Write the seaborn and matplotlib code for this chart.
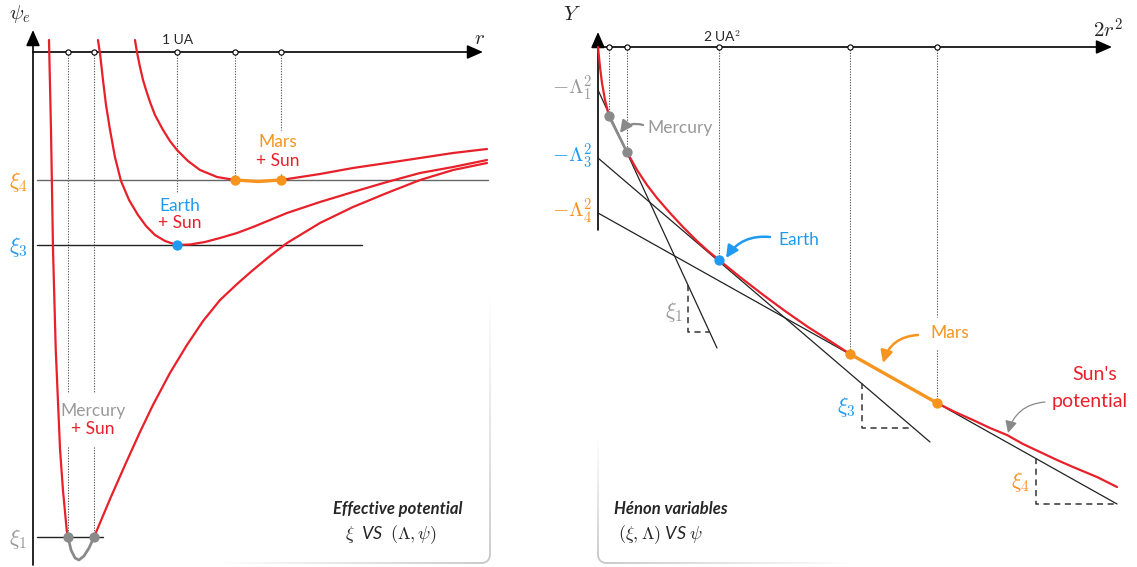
import numpy as np
import matplotlib.pyplot as plt
import seaborn as sns
from matplotlib.collections import LineCollection
from matplotlib.patches import Arc

# ---- colours
RED = '#e8202a'
ORANGE = '#f7941d'
BLUE = '#1e9bf0'
GREY = '#999999'
DOT_GREY = '#8a8a8a'

# ---- left panel: effective potential psi_e(r), r in UA
tick_r = [0.243, 0.424, 1.0, 1.403, 1.722]
xi_level = [-4.85, -1.93, -1.28]          # xi1, xi3, xi4
xi_line_end = [0.486, 2.285, 3.16]

mercury_in_r = [0.111, 0.125, 0.139, 0.158, 0.188, 0.208, 0.234, 0.243]
mercury_in_psi = [0.12, -0.78, -1.98, -2.98, -3.98, -4.38, -4.78, -4.85]
mercury_well_r = [0.243, 0.264, 0.292, 0.319, 0.354, 0.389, 0.424]
mercury_well_psi = [-4.85, -4.98, -5.06, -5.08, -5.04, -4.96, -4.85]
mercury_out_r = [0.424, 0.535, 0.639, 0.743, 0.833, 0.951, 1.069, 1.181,
                 1.299, 1.417, 1.528, 1.646, 1.764, 1.993, 2.222, 2.458,
                 2.688, 2.917, 3.153]
mercury_out_psi = [-4.85, -4.47, -4.13, -3.80, -3.53, -3.21, -2.93, -2.69,
                   -2.48, -2.32, -2.18, -2.04, -1.91, -1.71, -1.55, -1.41,
                   -1.28, -1.18, -1.11]

earth_r = [0.451, 0.465, 0.486, 0.507, 0.535, 0.569, 0.611, 0.667, 0.729,
           0.785, 0.847, 0.917, 1.0, 1.090, 1.194, 1.299, 1.417, 1.528,
           1.646, 1.764, 1.993, 2.222, 2.458, 2.688, 2.917, 3.153]
earth_psi = [0.12, -0.01, -0.28, -0.53, -0.78, -1.05, -1.29, -1.48, -1.63,
             -1.74, -1.83, -1.89, -1.93, -1.925, -1.90, -1.86, -1.81, -1.75,
             -1.68, -1.61, -1.50, -1.40, -1.30, -1.21, -1.15, -1.08]

mars_in_r = [0.708, 0.722, 0.743, 0.764, 0.785, 0.8125, 0.847, 0.903, 0.951,
             1.0, 1.076, 1.160, 1.278, 1.403]
mars_in_psi = [0.12, 0.00, -0.15, -0.28, -0.38, -0.50, -0.63, -0.78, -0.89,
               -0.98, -1.09, -1.18, -1.25, -1.28]
mars_well_r = [1.403, 1.563, 1.722]
mars_well_psi = [-1.28, -1.295, -1.28]
mars_out_r = [1.722, 1.993, 2.222, 2.458, 2.688, 2.917, 3.153]
mars_out_psi = [-1.28, -1.22, -1.16, -1.11, -1.06, -1.01, -0.97]

# ---- right panel: Henon variables, Y versus 2r^2 (UA^2)
tick_s = [0.182, 0.479, 2.0, 4.165, 5.603]
tick_Y = [-0.69, -1.05, -2.13, -3.07, -3.56]

sun_a_s = [0.0, 0.033, 0.066, 0.116, 0.182]
sun_a_Y = [0.0, -0.20, -0.36, -0.53, -0.69]
merc_seg_s = [0.182, 0.479]
merc_seg_Y = [-0.69, -1.05]
sun_b_s = [0.479, 0.645, 0.810, 0.975, 1.190, 1.405, 1.636, 1.818, 2.0,
           2.347, 2.711, 3.091, 3.471, 3.835, 4.165]
sun_b_Y = [-1.05, -1.23, -1.38, -1.51, -1.66, -1.80, -1.94, -2.04, -2.13,
           -2.30, -2.47, -2.64, -2.80, -2.94, -3.07]
mars_seg_s = [4.165, 5.603]
mars_seg_Y = [-3.07, -3.56]
sun_c_s = [5.603, 5.901, 6.198, 6.479, 6.760, 7.025, 7.306, 7.587, 7.851,
           8.248, 8.579]
sun_c_Y = [-3.56, -3.65, -3.73, -3.81, -3.88, -3.97, -4.05, -4.13, -4.20,
           -4.30, -4.40]

tangent_Lambda2 = [-0.43, -1.11, -1.66]     # -Lambda1^2, -Lambda3^2, -Lambda4^2
tangent_end_s = [1.967, 5.488, 8.579]
tangent_end_Y = [-3.01, -3.95, -4.57]
tri_s0 = [1.488, 4.364, 7.240]
tri_s1 = [1.835, 5.223, 8.579]
tri_Ytop = [-2.38, -3.36, -4.11]
tri_Ybot = [-2.85, -3.81, -4.57]
xi_names = [r'$\xi_1$', r'$\xi_3$', r'$\xi_4$']
lam_names = [r'$-\Lambda_1^2$', r'$-\Lambda_3^2$', r'$-\Lambda_4^2$']
body_colors = [GREY, BLUE, ORANGE]

sns.set_theme(style='white')
plt.rcParams['font.family'] = ['Lato', 'DejaVu Sans']
plt.rcParams['mathtext.fontset'] = 'cm'

fig = plt.figure(figsize=(11.37, 5.67), dpi=100)
axL = fig.add_axes([0, 0, 0.5, 1])
axR = fig.add_axes([0.5, 0, 0.5, 1])


def curve(ax, x, y, color, lw=1.6, z=3):
    sns.lineplot(x=x, y=y, ax=ax, color=color, lw=lw, sort=False,
                 estimator=None, zorder=z, solid_capstyle='round',
                 solid_joinstyle='round')


def vline(ax, x, y0, y1):
    ax.plot([x, x], [y0, y1], color='#444444', lw=0.8, dashes=(1, 1.4), zorder=1)


def arrow(ax, tip, start):
    ax.annotate('', xy=tip, xytext=start, zorder=2,
                arrowprops=dict(arrowstyle='-|>,head_length=0.8,head_width=0.35',
                                color='black', lw=1.2, shrinkA=0, shrinkB=0))


def curly(ax, start, end, color, lw, rad=0.35):
    ax.annotate('', xy=end, xytext=start, zorder=6,
                arrowprops=dict(arrowstyle='-|>,head_length=0.6,head_width=0.3',
                                connectionstyle=f'arc3,rad={rad}', color=color,
                                lw=lw, shrinkA=0, shrinkB=0))


def fade(ax, p0, p1, a0, a1, color='#c8c8c8'):
    t = np.linspace(0, 1, 40)
    xs = p0[0] + (p1[0] - p0[0]) * t
    ys = p0[1] + (p1[1] - p0[1]) * t
    pts = np.column_stack([xs, ys]).reshape(-1, 1, 2)
    segs = np.concatenate([pts[:-1], pts[1:]], axis=1)
    alphas = a0 + (a1 - a0) * t[:-1]
    cols = [(*plt.matplotlib.colors.to_rgb(color), a) for a in alphas]
    ax.add_collection(LineCollection(segs, colors=cols, lw=1.3, zorder=0))


# ================= LEFT PANEL =================
ax = axL
ax.set_xlim(-0.2292, 3.7188)
ax.set_ylim(-5.15, 0.52)

arrow(ax, (0, 0.22), (0, -5.13))
arrow(ax, (3.125, 0), (0, 0))

for lvl, end, c in zip(xi_level, xi_line_end, ['#222222', '#222222', '#666666']):
    ax.plot([0.028, end], [lvl, lvl], color=c, lw=1.0, zorder=2)

vline(ax, tick_r[0], 0, -3.41)
vline(ax, tick_r[0], -3.95, xi_level[0])
vline(ax, tick_r[1], 0, -3.41)
vline(ax, tick_r[1], -3.95, xi_level[0])
vline(ax, tick_r[2], 0, -1.41)
vline(ax, tick_r[3], 0, xi_level[2])
vline(ax, tick_r[4], 0, -0.78)
vline(ax, tick_r[4], -1.22, xi_level[2])

curve(ax, mercury_in_r, mercury_in_psi, RED)
curve(ax, mercury_out_r, mercury_out_psi, RED)
curve(ax, earth_r, earth_psi, RED)
curve(ax, mars_in_r, mars_in_psi, RED)
curve(ax, mars_out_r, mars_out_psi, RED)
curve(ax, mercury_well_r, mercury_well_psi, DOT_GREY, lw=2.0, z=4)
curve(ax, mars_well_r, mars_well_psi, ORANGE, lw=2.4, z=4)

sns.scatterplot(x=tick_r, y=[0] * len(tick_r), ax=ax, s=14, marker='o',
                facecolor='white', edgecolor='black', linewidth=0.8, zorder=5)
sns.scatterplot(x=[tick_r[0], tick_r[1]], y=[xi_level[0]] * 2, ax=ax, s=55,
                color=DOT_GREY, linewidth=0, zorder=5)
sns.scatterplot(x=[tick_r[2]], y=[xi_level[1]], ax=ax, s=55, color=BLUE,
                linewidth=0, zorder=5)
sns.scatterplot(x=[tick_r[3], tick_r[4]], y=[xi_level[2]] * 2, ax=ax, s=55,
                color=ORANGE, linewidth=0, zorder=5)

ax.text(-0.09, 0.38, r'$\psi_e$', fontsize=15, ha='center', va='center')
ax.text(3.10, 0.14, r'$r$', fontsize=15, ha='center', va='center')
ax.text(1.007, 0.12, '1 UA', fontsize=10, ha='center', va='center')
for lvl, name, c in zip(xi_level, xi_names, body_colors):
    ax.text(-0.104, lvl - 0.02, name, fontsize=16, color=c, ha='center', va='center')

ax.text(1.701, -0.90, 'Mars', fontsize=12.5, color=ORANGE, ha='center', va='center')
ax.text(1.701, -1.09, '+ Sun', fontsize=12.5, color=RED, ha='center', va='center')
ax.text(1.021, -1.54, 'Earth', fontsize=12.5, color=BLUE, ha='center', va='center')
ax.text(1.021, -1.71, '+ Sun', fontsize=12.5, color=RED, ha='center', va='center')
ax.text(0.417, -3.59, 'Mercury', fontsize=12.5, color=GREY, ha='center', va='center')
ax.text(0.417, -3.77, '+ Sun', fontsize=12.5, color=RED, ha='center', va='center')

ax.text(2.986, -4.57, 'Effective potential', fontsize=12, fontweight='bold',
        fontstyle='italic', ha='right', va='center')
ax.text(2.486, -4.83, r'$\xi$  VS  $(\Lambda,\psi)$', fontsize=13,
        fontstyle='italic', ha='center', va='center')

fade(ax, (3.174, -2.4), (3.174, -5.03), 0.0, 1.0)
ax.add_patch(Arc((3.118, -5.03), 0.111, 0.16, theta1=270, theta2=360,
                 color='#c8c8c8', lw=1.3))
fade(ax, (3.118, -5.11), (1.3, -5.11), 1.0, 0.0)
ax.set_axis_off()

# ================= RIGHT PANEL =================
ax = axR
ax.set_xlim(-0.4876, 8.909)
ax.set_ylim(-5.20, 0.47)

arrow(ax, (0, 0.15), (0, -1.83))
arrow(ax, (8.496, 0), (0, 0))

for i in range(4):
    vline(ax, tick_s[i], 0, tick_Y[i])
vline(ax, tick_s[4], 0, -2.70)
vline(ax, tick_s[4], -3.03, tick_Y[4])

for lam, es, ey in zip(tangent_Lambda2, tangent_end_s, tangent_end_Y):
    ax.plot([0, es], [lam, ey], color='#222222', lw=0.9, zorder=2)
for s0, s1, yt, yb in zip(tri_s0, tri_s1, tri_Ytop, tri_Ybot):
    ax.plot([s0, s0, s1], [yt, yb, yb], color='#333333', lw=1.1,
            dashes=(4, 3), zorder=2)

curve(ax, sun_a_s, sun_a_Y, RED)
curve(ax, sun_b_s, sun_b_Y, RED)
curve(ax, sun_c_s, sun_c_Y, RED)
curve(ax, merc_seg_s, merc_seg_Y, DOT_GREY, lw=2.0, z=4)
curve(ax, mars_seg_s, mars_seg_Y, ORANGE, lw=2.4, z=4)

sns.scatterplot(x=tick_s, y=[0] * len(tick_s), ax=ax, s=14, marker='o',
                facecolor='white', edgecolor='black', linewidth=0.8, zorder=5)
sns.scatterplot(x=tick_s[:2], y=tick_Y[:2], ax=ax, s=55, color=DOT_GREY,
                linewidth=0, zorder=5)
sns.scatterplot(x=[tick_s[2]], y=[tick_Y[2]], ax=ax, s=55, color=BLUE,
                linewidth=0, zorder=5)
sns.scatterplot(x=tick_s[3:], y=tick_Y[3:], ax=ax, s=55, color=ORANGE,
                linewidth=0, zorder=5)

ax.text(-0.43, 0.33, r'$Y$', fontsize=15, ha='center', va='center')
ax.text(8.43, 0.17, r'$2r^2$', fontsize=15, ha='center', va='center')
ax.text(2.05, 0.11, r'2 UA$^2$', fontsize=10, ha='center', va='center')
for lam, name, c in zip(tangent_Lambda2, lam_names, body_colors):
    ax.text(-0.099, lam + 0.02, name, fontsize=15, color=c, ha='right', va='center')
xi_pos = [(1.405, -2.65), (4.264, -3.60), (7.14, -4.35)]
for (sx, yy), name, c in zip(xi_pos, xi_names, body_colors):
    ax.text(sx, yy, name, fontsize=16, color=c, ha='right', va='center')

ax.text(0.810, -0.81, 'Mercury', fontsize=12.5, color=GREY, ha='left', va='center')
curly(ax, (0.744, -0.78), (0.364, -0.86), DOT_GREY, 1.6)
ax.text(2.975, -1.93, 'Earth', fontsize=12.5, color=BLUE, ha='left', va='center')
curly(ax, (2.843, -1.90), (2.116, -2.11), BLUE, 1.8, rad=0.3)
ax.text(5.818, -2.86, 'Mars', fontsize=12.5, color=ORANGE, ha='center', va='center')
curly(ax, (5.289, -2.88), (4.711, -3.16), ORANGE, 1.8)
ax.text(8.215, -3.28, "Sun's", fontsize=14, color=RED, ha='center', va='center')
ax.text(8.132, -3.54, 'potential', fontsize=14, color=RED, ha='center', va='center')
curly(ax, (7.388, -3.55), (6.777, -3.86), '#888888', 0.9)

ax.text(0.264, -4.62, 'Hénon variables', fontsize=12, fontweight='bold',
        fontstyle='italic', ha='left', va='center')
ax.text(0.33, -4.88, r'$(\xi,\Lambda)$ VS $\psi$', fontsize=13,
        fontstyle='italic', ha='left', va='center')

fade(ax, (0, -3.9), (0, -5.08), 0.0, 1.0)
ax.add_patch(Arc((0.132, -5.08), 0.264, 0.16, theta1=180, theta2=270,
                 color='#c8c8c8', lw=1.3))
fade(ax, (0.132, -5.16), (4.2, -5.16), 1.0, 0.0)
ax.set_axis_off()

fig.savefig('out.png', dpi=100)
